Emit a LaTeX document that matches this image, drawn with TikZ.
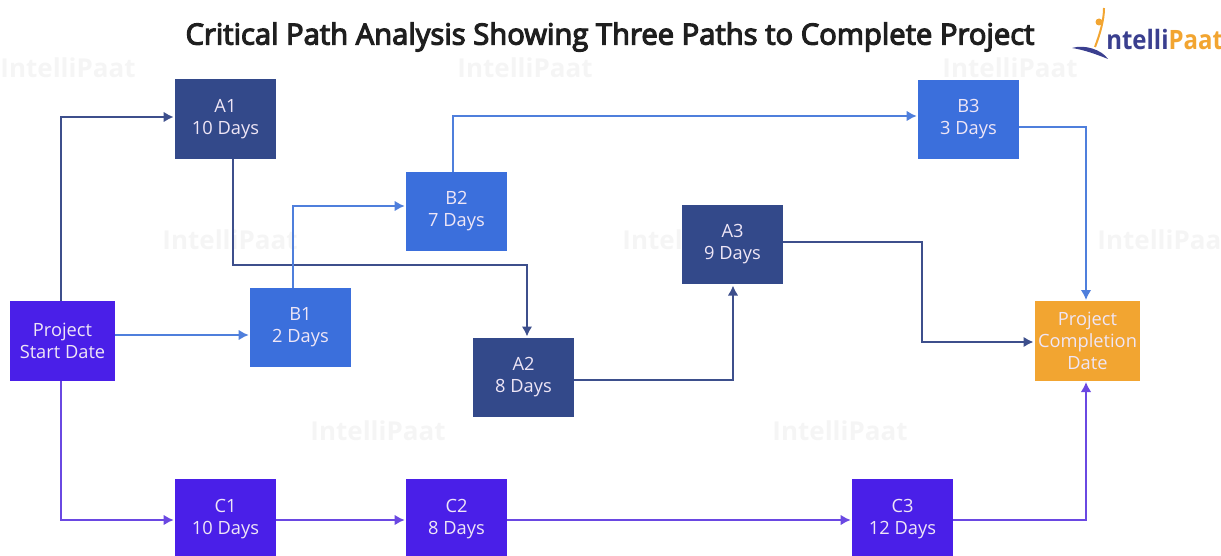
\documentclass[tikz,border=0pt]{standalone}
\usepackage{fontspec}
\setmainfont{Open Sans}
\newfontfamily\titlefont[FakeBold=4]{Open Sans}
\usetikzlibrary{arrows.meta}

\definecolor{pathA}{HTML}{33498A}
\definecolor{pathB}{HTML}{3B6FDC}
\definecolor{pathC}{HTML}{4A1FE8}
\definecolor{lineA}{HTML}{3D4F8C}
\definecolor{lineB}{HTML}{4F7FDC}
\definecolor{lineC}{HTML}{6A48E2}
\definecolor{finish}{HTML}{F2A531}
\definecolor{boxtext}{HTML}{EFE6F6}
\definecolor{mark}{HTML}{F5F5F5}
\definecolor{logoblue}{HTML}{3A3F8F}

\tikzset{
  task/.style={draw=none,text=boxtext,font=\fontsize{13.7}{16.6}\selectfont,align=center,
    minimum width=75.75pt,minimum height=59.5pt,inner sep=0pt,outer sep=0pt},
  link/.style={line width=1.4pt,-{Latex[length=7.5pt,width=8pt]},shorten >=1pt},
}

\begin{document}
\begin{tikzpicture}[x=0.75pt,y=-0.75pt]

      \useasboundingbox (0,0) rectangle (1221,556);

      % watermarks
      \foreach \x/\y in {68/68,525/68,1010/68,230/240,690/240,1165/240,378/431,840/431} {
        \node[text=mark,font=\bfseries\fontsize{19.5}{21}\selectfont] (mark\x) at (\x,\y) {IntelliPaat};
      }

      \node[font=\titlefont\fontsize{21.9}{24}\selectfont,text=black!88] (title) at (610,37) {Critical Path Analysis Showing Three Paths to Complete Project};

      % logo
      \fill[logoblue] (1072,48) .. controls (1085,44) and (1102,50) .. (1108,59) .. controls (1098,55) and (1085,50) .. (1072,48);
      \draw[finish,line width=1.5pt] (1104,8) .. controls (1104,20) and (1100,34) .. (1095,47);
      \fill[finish] (1099,22) circle (3.5);
      \node[anchor=base west,inner sep=0pt,xscale=0.9,font=\bfseries\fontsize{20}{21}\selectfont] (logo) at (1106,50) {\textcolor{logoblue}{ntelli}\textcolor{finish}{Paat}};

      \begin{scope}[every node/.style={task}]
        \node[fill=pathC,minimum width=79pt] (start) at (62.5,341) {Project\\Start Date};
        \node[fill=pathA] (a1) at (225.5,119) {A1\\10 Days};
        \node[fill=pathA] (a2) at (523.5,377.5) {A2\\8 Days};
        \node[fill=pathA] (a3) at (732.5,244.5) {A3\\9 Days};
        \node[fill=pathB] (b1) at (300.5,327.5) {B1\\2 Days};
        \node[fill=pathB] (b2) at (456.5,211.5) {B2\\7 Days};
        \node[fill=pathB] (b3) at (968.5,119.5) {B3\\3 Days};
        \node[fill=pathC] (c1) at (225.5,519) {C1\\10 Days};
        \node[fill=pathC] (c2) at (456.5,519) {C2\\8 Days};
        \node[fill=pathC] (c3) at (902.5,519) {C3\\12 Days};
        \node[fill=finish,minimum width=79pt] (end) at (1087.5,341) {Project\\Completion\\Date};
      \end{scope}

      \begin{scope}[every path/.style={link,draw=lineA,line width=1.6pt}]
        \draw (61,0 |- start.north) |- (a1.west |- 0,117);
        \draw (233,0 |- a1.south) |- (527,265) -- (527,0 |- a2.north);
        \draw (a2.east |- 0,380) -| (a3.south -| 733,0);
        \draw (a3.east |- 0,242) -| (922,342) -- (end.west |- 0,342);
      \end{scope}

      \begin{scope}[every path/.style={link,draw=lineB}]
        \draw (start.east |- 0,335) -- (b1.west |- 0,335);
        \draw (293,0 |- b1.north) |- (b2.west |- 0,206);
        \draw (453,0 |- b2.north) |- (b3.west |- 0,116);
        \draw (b3.east |- 0,127) -| (1086,0 |- end.north);
      \end{scope}

      \begin{scope}[every path/.style={link,draw=lineC}]
        \draw (61,0 |- start.south) |- (c1.west |- 0,520);
        \draw (c1.east |- 0,520) -- (c2.west |- 0,520);
        \draw (c2.east |- 0,520) -- (c3.west |- 0,520);
        \draw (c3.east |- 0,520) -| (1086,0 |- end.south);
      \end{scope}

    \end{tikzpicture}
\end{document}
